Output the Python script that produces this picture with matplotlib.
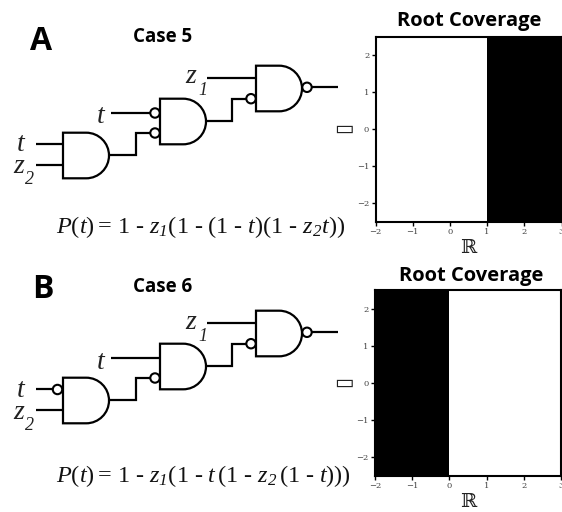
import matplotlib
matplotlib.use("Agg")
import matplotlib.pyplot as plt
from matplotlib.path import Path
from matplotlib.patches import PathPatch, Circle

plt.rcParams["mathtext.fontset"] = "custom"
plt.rcParams["mathtext.rm"] = "Liberation Serif"
plt.rcParams["mathtext.it"] = "Liberation Serif:italic"
plt.rcParams["mathtext.cal"] = "Liberation Serif:italic"

W = 562
H = 512

# root coverage: black band on the real axis
x_range = [-2, 3]
y_range = [-2.5, 2.5]
x_ticks = [-2, -1, 0, 1, 2, 3]
y_ticks = [-2, -1, 0, 1, 2]
black_bands = [(1, 3), (-2, 0)]

panel_letters = ["A", "B"]
case_names = ["Case 5", "Case 6"]
formulas = [
	r"$\mathcal{P}(\mathcal{t})=\,1\ ‐\ \mathcal{z}_{\mathcal{1}}(1\ ‐\ (1\ ‐\ \mathcal{t})(1\ ‐\ \mathcal{z}_{\mathcal{2}}\mathcal{t}))$",
	r"$\mathcal{P}(\mathcal{t})=\,1\ ‐\ \mathcal{z}_{\mathcal{1}}(1\ ‐\ \mathcal{t}\,(1\ ‐\ \mathcal{z}_{\mathcal{2}}\,(1\ ‐\ \mathcal{t})))$",
]
letter_pos = [(41.5, 49.5), (42.5, 297.5)]
case_pos = [(163, 42.5), (163, 292)]
title_pos = [(469, 26), (471, 280.5)]
formula_pos = [(56, 233), (56, 482)]
chart_boxes = [(375.5, 36.5, 561.5, 222), (375, 290, 561, 476)]

# circuit layout in pixels, for the upper panel
panel_shift = [0, 245]
gates = [(63, 132.7), (160, 98.7), (256, 65.7)]
gate_w = 46
gate_h = 45.6
wires = [
	[(36, 143.7), (63, 143.7)],
	[(36, 165), (63, 165)],
	[(109, 155), (135.5, 155), (135.5, 133), (150, 133)],
	[(206, 120.7), (232, 120.7), (232, 98.7), (246, 98.7)],
	[(206.5, 78), (256, 78)],
	[(312, 87.3), (338, 87.3)],
]
# second panel only differs in which inputs are negated
t_wires = [[(110.5, 113), (150, 113)], [(110.5, 113), (160, 113)]]
bubbles = [
	[(155, 113), (155, 133), (251, 98.7), (307, 87.3)],
	[(57.5, 144.5), (155, 133), (251, 98.7), (307, 87.3)],
]
bubble_r = 4.7
signal_text = [
	("t", 17, 151, 20),
	("z", 13, 173, 20),
	("2", 25, 184, 13),
	("t", 97, 123, 20),
	("z", 185, 83, 20),
	("1", 198, 95, 13),
]


def draw_gate(ax, x, y):
	k = 0.5523
	r = gate_h / 2
	sx = x + gate_w - r
	verts = [
		(x, y), (sx, y),
		(sx + k * r, y), (sx + r, y + r - k * r), (sx + r, y + r),
		(sx + r, y + r + k * r), (sx + k * r, y + gate_h), (sx, y + gate_h),
		(x, y + gate_h), (x, y),
	]
	codes = [Path.MOVETO, Path.LINETO] + [Path.CURVE4] * 6 + [Path.LINETO, Path.CLOSEPOLY]
	ax.add_patch(PathPatch(Path(verts, codes), facecolor="white", edgecolor="black", lw=1.6, zorder=3))


def draw_wire(ax, pts, dy):
	ax.plot([p[0] for p in pts], [p[1] + dy for p in pts], color="black", lw=1.6,
		solid_joinstyle="miter", solid_capstyle="butt", zorder=2)


def main():
	fig = plt.figure(figsize=(W / 100, H / 100), dpi=100)
	fig.patch.set_facecolor("white")

	canvas = fig.add_axes([0, 0, 1, 1])
	canvas.set_xlim(0, W)
	canvas.set_ylim(H, 0)
	canvas.axis("off")

	for i in range(2):
		dy = panel_shift[i]
		for g in gates:
			draw_gate(canvas, g[0], g[1] + dy)
		for w in wires + [t_wires[i]]:
			draw_wire(canvas, w, dy)
		for b in bubbles[i]:
			canvas.add_patch(Circle((b[0], b[1] + dy), bubble_r, facecolor="white",
				edgecolor="black", lw=1.5, zorder=4))
		for s, x, y, size in signal_text:
			canvas.text(x, y + dy + (1 if i else 0), s, family="Liberation Serif", style="italic",
				fontsize=size, color="#222222", ha="left", va="baseline")

		canvas.text(letter_pos[i][0], letter_pos[i][1], panel_letters[i], family="Open Sans",
			weight="bold", fontsize=23, color="black", ha="center", va="baseline")
		canvas.text(case_pos[i][0], case_pos[i][1], case_names[i], family="Open Sans",
			weight="bold", fontsize=13.5, color="black", ha="center", va="baseline")
		canvas.text(formula_pos[i][0], formula_pos[i][1], formulas[i], fontsize=17.5,
			color="#111111", ha="left", va="baseline")
		canvas.text(title_pos[i][0], title_pos[i][1], "Root Coverage", family="Open Sans",
			weight="bold", fontsize=14.5, color="black", ha="center", va="baseline")

		x0, y0, x1, y1 = chart_boxes[i]
		ax = fig.add_axes([x0 / W, 1 - y1 / H, (x1 - x0) / W, (y1 - y0) / H])
		ax.set_xlim(x_range)
		ax.set_ylim(y_range)
		ax.axvspan(black_bands[i][0], black_bands[i][1], color="black", lw=0)
		ax.set_xticks(x_ticks)
		ax.set_yticks(y_ticks)
		ax.tick_params(length=3, width=1, labelsize=6, pad=1.5, color="black", labelcolor="#444444")
		for lab in ax.get_xticklabels() + ax.get_yticklabels():
			lab.set_family("DejaVu Serif")
		for sp in ax.spines.values():
			sp.set_linewidth(1.5)
		ax.set_xlabel("\u211d", family="DejaVu Serif", fontsize=14, labelpad=2, color="#222222")
		ax.set_ylabel("\u25ad", family="DejaVu Sans", fontsize=15, rotation=0, ha="center", va="center", color="#222222")
		ax.yaxis.set_label_coords(-0.167, 0.5)

	fig.savefig("out.png", dpi=100)


if __name__ == "__main__":
	main()
